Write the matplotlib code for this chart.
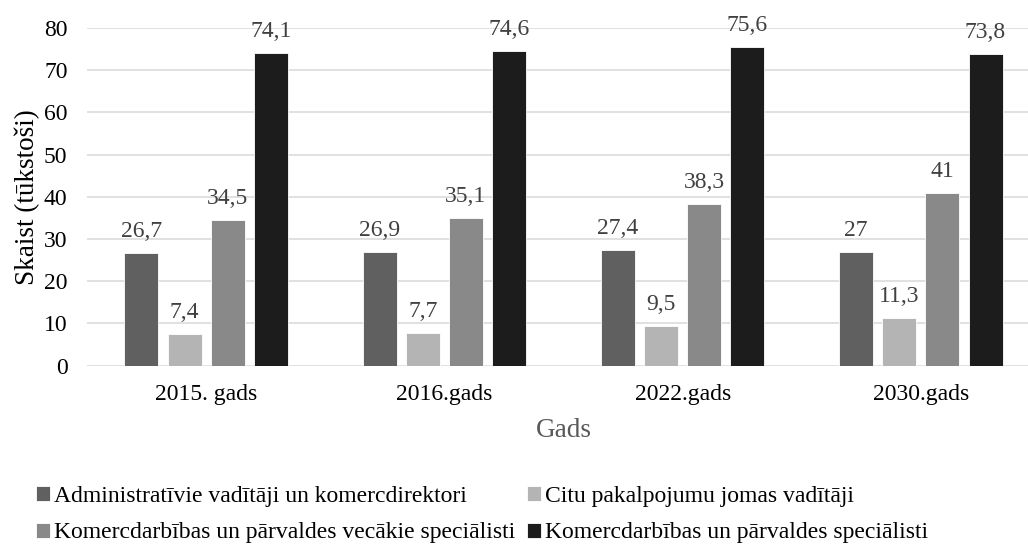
import numpy as np
import matplotlib
matplotlib.use("Agg")
import matplotlib.pyplot as plt

# Data
categories = ["2015. gads", "2016.gads", "2022.gads", "2030.gads"]
series_names = [
    "Administratīvie vadītāji un komercdirektori",
    "Citu pakalpojumu jomas vadītāji",
    "Komercdarbības un pārvaldes vecākie speciālisti",
    "Komercdarbības un pārvaldes speciālisti",
]
admin = [26.7, 26.9, 27.4, 27]
citu = [7.4, 7.7, 9.5, 11.3]
vecakie = [34.5, 35.1, 38.3, 41]
specialisti = [74.1, 74.6, 75.6, 73.8]

colors = ["#606060", "#b4b4b4", "#898989", "#1c1c1c"]

plt.rcParams["font.family"] = ["Liberation Serif", "DejaVu Serif"]

fig = plt.figure(figsize=(10.28, 5.53), dpi=100)
# plot area runs a little past the right edge, as in the cropped original
ax = fig.add_axes([87 / 1028, (553 - 365.7) / 553, 953 / 1028, 337.7 / 553])

x = np.arange(len(categories))
width = 0.143
step = 0.181
handles = []
for i, (vals, name) in enumerate(zip([admin, citu, vecakie, specialisti], series_names)):
    offs = (i - 1.5) * step
    bars = ax.bar(x + offs, vals, width, color=colors[i], label=name,
                  edgecolor="white", linewidth=0.6, zorder=3)
    handles.append(bars)
    for xi, v in zip(x + offs, vals):
        txt = f"{v:g}".replace(".", ",")
        ax.annotate(txt, (xi, v), xytext=(0, 11.5), textcoords="offset points",
                    ha="center", va="baseline", fontsize=17, color="#404040")

ax.set_xlim(-0.5, 3.5)
ax.set_ylim(0, 80)
ax.set_yticks(np.arange(0, 81, 10))
ax.set_xticks(x)
ax.set_xticklabels(categories)
ax.grid(axis="y", color="#d9d9d9", linewidth=1.1, zorder=0)
for s in ax.spines.values():
    s.set_visible(False)
ax.tick_params(axis="both", length=0, labelsize=17, colors="black")
ax.tick_params(axis="y", pad=14)
ax.tick_params(axis="x", pad=13)

ax.set_xlabel("Gads", fontsize=19.5, color="#595959", labelpad=9.5)
ax.set_ylabel("Skaist (tūkstoši)", fontsize=19.5, color="black", labelpad=2.7)

order = [0, 2, 1, 3]
fig.legend([handles[i] for i in order], [series_names[i] for i in order],
           ncol=2, loc="upper left", bbox_to_anchor=(36 / 1028, 1 - 486 / 553),
           frameon=False, fontsize=17, handlelength=0.6, handleheight=0.6,
           handletextpad=0.17, columnspacing=0.5, labelspacing=0.65,
           borderpad=0, borderaxespad=0)

fig.savefig("out.png", dpi=100)
